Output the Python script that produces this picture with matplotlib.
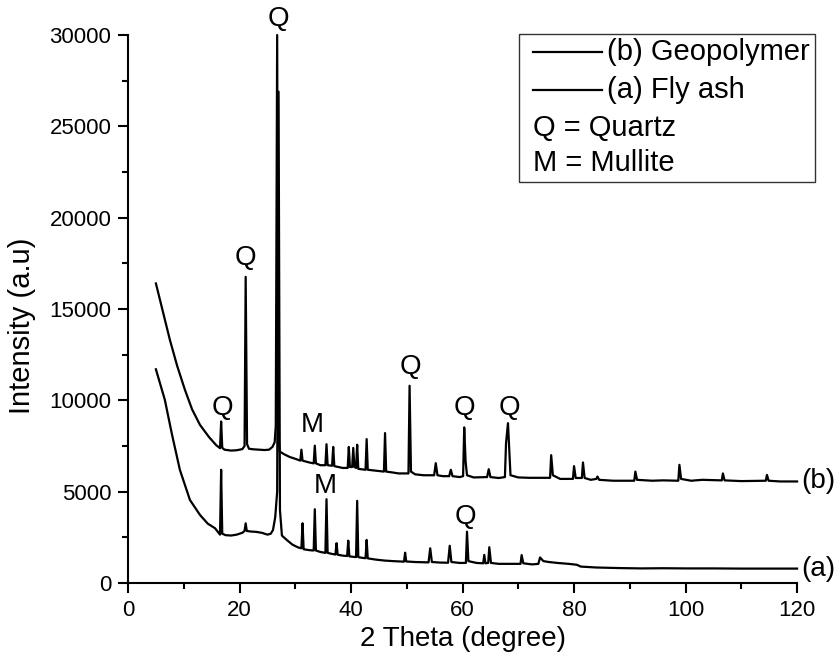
import matplotlib
matplotlib.use("Agg")
import matplotlib.pyplot as plt
from matplotlib.patches import Rectangle
from matplotlib.ticker import MultipleLocator

plt.rcParams['font.family'] = ['Liberation Sans', 'DejaVu Sans']

# (b) Geopolymer, points
geo_x = [5.0, 6.3, 7.5, 8.8, 10.2, 11.5, 12.9, 14.5, 15.8, 16.5, 16.7, 16.9,
         17.3, 18.5, 19.5, 20.5, 20.9, 21.1, 21.35, 21.7, 22.5, 23.5, 24.5, 25.3, 25.9, 26.3,
         26.5, 26.75, 26.95, 27.2, 28.0, 29.0, 30.0, 30.9, 31.1, 31.3, 32.5, 33.3, 33.5, 33.7,
         34.5, 35.4, 35.6, 35.8, 36.6, 36.8, 37.0, 38.5, 39.4, 39.6, 39.8, 40.2, 40.4, 40.6,
         40.9, 41.1, 41.3, 42.6, 42.8, 43.0, 44.5, 45.9, 46.1, 46.3, 47.5, 48.5, 49.5, 50.3,
         50.5, 50.75, 51.5, 53.0, 54.9, 55.2, 55.5, 56.5, 57.6, 57.9, 58.2, 59.5, 60.1, 60.3,
         60.55, 60.8, 62.0, 64.4, 64.7, 65.0, 66.5, 67.6, 67.8, 68.15, 68.4, 68.6, 70.0, 72.0,
         74.0, 75.7, 75.9, 76.2, 77.5, 79.8, 80.0, 80.3, 81.4, 81.6, 81.9, 83.0, 84.0, 84.2,
         84.5, 87.0, 90.8, 91.0, 91.3, 94.0, 96.0, 98.7, 98.9, 99.2, 101.0, 103.0, 106.5, 106.7,
         107.0, 110.0, 114.4, 114.6, 114.9, 117.0, 120.0]
geo_y = [16400, 14800, 13320, 11900, 10580, 9500, 8660, 8000, 7550, 7380, 8840, 7400,
         7300, 7250, 7270, 7330, 7500, 16760, 7600, 7350, 7320, 7300, 7280, 7300, 7450, 7700,
         8600, 30000, 8200, 7200, 7050, 6900, 6800, 6700, 7300, 6700, 6600, 6550, 7520, 6550,
         6450, 6450, 7600, 6450, 6420, 7450, 6400, 6300, 6300, 7450, 6350, 6350, 7400, 6350,
         6300, 7570, 6250, 6200, 7880, 6200, 6150, 6100, 8210, 6100, 6050, 6000, 6000, 6000,
         10800, 6100, 5950, 5900, 5900, 6560, 5900, 5850, 5850, 6200, 5850, 5800, 5850, 8520,
         6650, 5900, 5780, 5800, 6230, 5800, 5750, 5800, 7660, 8750, 7200, 5900, 5780, 5760,
         5760, 5760, 7000, 5900, 5700, 5700, 6400, 5750, 5750, 6600, 5750, 5650, 5700, 5830,
         5650, 5600, 5600, 6100, 5650, 5600, 5620, 5600, 6470, 5700, 5600, 5650, 5620, 6000,
         5620, 5580, 5600, 5920, 5600, 5560, 5560]

# (a) Fly ash
ash_x = [5.0, 6.6, 7.9, 9.3, 11.1, 12.9, 14.3, 15.6, 16.5, 16.7, 16.9,
         17.5, 18.5, 19.5, 20.5, 20.9, 21.1, 21.3, 22.0, 23.0, 24.0, 25.0, 25.6, 26.0, 26.4,
         26.75, 27.0, 27.25, 27.6, 28.5, 29.5, 30.5, 31.1, 31.3, 31.5, 32.5, 33.3, 33.5, 33.7,
         34.5, 35.4, 35.6, 35.8, 36.5, 37.2, 37.4, 37.6, 38.5, 39.3, 39.5, 39.7, 40.5, 40.9,
         41.1, 41.3, 42.0, 42.6, 42.8, 43.0, 44.5, 46.0, 47.5, 49.5, 49.7, 49.9, 51.5, 53.9,
         54.2, 54.5, 56.0, 57.4, 57.7, 58.0, 59.5, 60.6, 60.8, 61.05, 62.5, 63.7, 63.9, 64.1,
         64.6, 64.8, 65.1, 66.5, 68.5, 70.4, 70.6, 70.9, 72.5, 73.6, 73.9, 74.2, 74.5, 75.5, 77.0,
         79.0, 80.5, 81.2, 84.0, 88.0, 92.0, 96.0, 100.0, 105.0, 110.0, 115.0, 120.0]
ash_y = [11700, 10030, 8110, 6195, 4550, 3730, 3250, 3000, 2650, 6200, 2700,
         2620, 2600, 2650, 2750, 2850, 3270, 2850, 2820, 2800, 2750, 2650, 2700, 2900, 3600,
         5000, 26900, 4000, 2600, 2350, 2100, 1950, 1900, 3270, 1850, 1800, 1780, 4040, 1780,
         1700, 1650, 4590, 1650, 1600, 1560, 2180, 1550, 1500, 1480, 2320, 1460, 1430, 1420,
         4500, 1420, 1380, 1360, 2360, 1350, 1280, 1230, 1200, 1170, 1660, 1180, 1150, 1130,
         1900, 1150, 1120, 1110, 2040, 1150, 1100, 1100, 2810, 1200, 1100, 1080, 1540, 1080,
         1100, 1960, 1100, 1050, 1050, 1050, 1530, 1080, 1020, 1050, 1400, 1300, 1200, 1150, 1100,
         1050, 1000, 900, 850, 820, 800, 810, 800, 800, 790, 790, 790]

# phase labels above peaks
peak_labels = ["Q", "Q", "Q", "M", "M", "Q", "Q", "Q", "Q"]
peak_lab_x = [26.9, 21.0, 16.9, 33.0, 35.3, 50.6, 60.3, 68.5, 60.5]
peak_lab_y = [30900, 17800, 9600, 8650, 5300, 11850, 9600, 9600, 3600]

fig = plt.figure(figsize=(8.39, 6.68), dpi=100)
ax = fig.add_axes([0.1526, 0.1272, 0.7974, 0.8204])

ax.plot(geo_x, geo_y, color='black', lw=1.6, clip_on=False)
ax.plot(ash_x, ash_y, color='black', lw=1.6, clip_on=False)

for lab, lx, ly in zip(peak_labels, peak_lab_x, peak_lab_y):
    ax.text(lx, ly, lab, fontsize=20, ha='center', va='center', clip_on=False)

ax.text(120.8, geo_y[-1], "(b)", fontsize=20, ha='left', va='center', clip_on=False)
ax.text(120.8, ash_y[-1], "(a)", fontsize=20, ha='left', va='center', clip_on=False)

ax.set_xlim(0, 120)
ax.set_ylim(0, 30000)
ax.xaxis.set_major_locator(MultipleLocator(20))
ax.xaxis.set_minor_locator(MultipleLocator(10))
ax.yaxis.set_major_locator(MultipleLocator(5000))
ax.yaxis.set_minor_locator(MultipleLocator(2500))
ax.spines['top'].set_visible(False)
ax.spines['right'].set_visible(False)
ax.spines['left'].set_linewidth(1.5)
ax.spines['bottom'].set_linewidth(1.5)
ax.tick_params(which='major', direction='out', length=7, width=1.5, labelsize=16, pad=5)
ax.tick_params(which='minor', direction='out', length=4, width=1.5)
ax.set_xlabel("2 Theta (degree)", fontsize=20, labelpad=4)
ax.set_ylabel("Intensity (a.u)", fontsize=21)
ax.yaxis.set_label_coords(-0.137, 0.47)

# legend box
ax.add_patch(Rectangle((0.5845, 0.7318), 0.4425, 0.27, transform=ax.transAxes,
                       fill=False, edgecolor='#333333', lw=1.0, clip_on=False))
ax.plot([0.6054, 0.7085], [0.969, 0.969], transform=ax.transAxes, color='black', lw=1.6, clip_on=False)
ax.plot([0.6054, 0.7085], [0.8996, 0.8996], transform=ax.transAxes, color='black', lw=1.6, clip_on=False)
ax.text(0.716, 0.969, "(b) Geopolymer", transform=ax.transAxes, fontsize=21, va='center')
ax.text(0.716, 0.8996, "(a) Fly ash", transform=ax.transAxes, fontsize=21, va='center')
ax.text(0.6054, 0.8303, "Q = Quartz", transform=ax.transAxes, fontsize=21, va='center')
ax.text(0.6054, 0.7664, "M = Mullite", transform=ax.transAxes, fontsize=21, va='center')

fig.savefig("out.png", dpi=100)
